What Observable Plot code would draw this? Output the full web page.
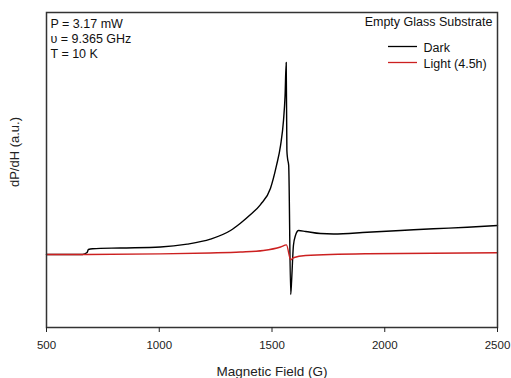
<!DOCTYPE html>
<html>
<head>
<meta charset="utf-8">
<script src="https://cdn.jsdelivr.net/npm/d3@7"></script>
<script src="https://cdn.jsdelivr.net/npm/@observablehq/plot@0.6"></script>
<style>
  body { margin: 0; background: #fff; }
  svg { font-family: "Liberation Sans", Arial, sans-serif; }
</style>
</head>
<body>
<div id="chart"></div>
<script>
// Magnetic field (G) and signal (a.u.)
const darkField = [500, 660, 680, 686, 704, 828, 1005, 1124, 1227, 1316, 1360, 1405, 1449, 1493, 1520, 1538, 1551, 1558, 1563, 1566, 1569, 1574, 1583, 1587, 1595, 1604, 1618, 1649, 1715, 1773, 1922, 2070, 2216, 2366, 2500];
const darkSignal = [0, 0, 0.01, 0.026, 0.03, 0.034, 0.039, 0.054, 0.08, 0.125, 0.163, 0.208, 0.26, 0.344, 0.464, 0.568, 0.698, 0.828, 1.0, 0.542, 0.5, 0.464, -0.208, -0.135, 0.047, 0.099, 0.125, 0.12, 0.109, 0.107, 0.116, 0.125, 0.134, 0.142, 0.151];
const lightField = [500, 680, 1005, 1227, 1360, 1462, 1538, 1564, 1583, 1595, 1649, 1922, 2500];
const lightSignal = [0, 0, 0.003, 0.008, 0.013, 0.021, 0.039, 0.05, -0.028, -0.017, -0.005, 0.004, 0.009];

const xTicks = [500, 1000, 1500, 2000, 2500];
const seriesNames = ["Dark", "Light (4.5h)"];
const seriesColors = ["#000000", "#cc2020"];
const infoLines = ["P = 3.17 mW", "υ = 9.365 GHz", "T = 10 K"];
const sampleTitle = "Empty Glass Substrate";

const rows = [
  ...darkField.map((f, i) => ({field: f, signal: darkSignal[i], series: seriesNames[0]})),
  ...lightField.map((f, i) => ({field: f, signal: lightSignal[i], series: seriesNames[1]}))
];

const chart = Plot.plot({
  width: 511,
  height: 378,
  marginLeft: 46,
  marginRight: 14,
  marginTop: 12,
  marginBottom: 51,
  style: {fontFamily: '"Liberation Sans", Arial, sans-serif', fontSize: "11px", color: "#222"},
  x: {domain: [500, 2500]},
  y: {domain: [-0.3802, 1.2604]},
  color: {domain: seriesNames, range: seriesColors},
  marks: [
    Plot.line(rows, {x: "field", y: "signal", z: "series", stroke: "series", strokeWidth: 1.4, curve: "monotone-x"}),
    Plot.frame({stroke: "#333", strokeWidth: 1.5}),
    Plot.axisX({ticks: xTicks, tickSize: 5, tickPadding: 8, tickFormat: d => String(d), fontSize: 11.5,
      label: "Magnetic Field (G)", labelAnchor: "center", labelArrow: "none", labelOffset: 48}),
    Plot.axisY({ticks: [], label: null}),
    Plot.text([infoLines.join("\n")], {text: d => d, frameAnchor: "top-left", dx: 4, dy: 5, fontSize: 12.5, lineHeight: 1.2, fill: "#111", textAnchor: "start", lineAnchor: "top"}),
    Plot.text([sampleTitle], {text: d => d, frameAnchor: "top-right", dx: -5, dy: 5, fontSize: 12.5, fill: "#111", textAnchor: "end", lineAnchor: "top"}),
    Plot.text([seriesNames.join("\n")], {text: d => d, frameAnchor: "top-left", dx: 377, dy: 28, fontSize: 12.5, lineHeight: 1.28, fill: "#111", textAnchor: "start", lineAnchor: "top"})
  ]
});

// y axis label and legend swatches
const svg = d3.select(chart);
svg.append("text")
  .attr("transform", "translate(14,152) rotate(-90)")
  .attr("text-anchor", "middle").attr("dominant-baseline", "central")
  .attr("font-size", 13).attr("fill", "#222")
  .text("dP/dH (a.u.)");
const leg = svg.append("g");
seriesNames.forEach((name, i) => {
  leg.append("line")
    .attr("x1", 388).attr("x2", 417)
    .attr("y1", 46.5 + i * 16).attr("y2", 46.5 + i * 16)
    .attr("stroke", seriesColors[i]).attr("stroke-width", 1.3);
});
svg.selectAll('[aria-label="x-axis label"] text').attr("font-size", 13.5);

document.getElementById("chart").appendChild(chart);
</script>
</body>
</html>
